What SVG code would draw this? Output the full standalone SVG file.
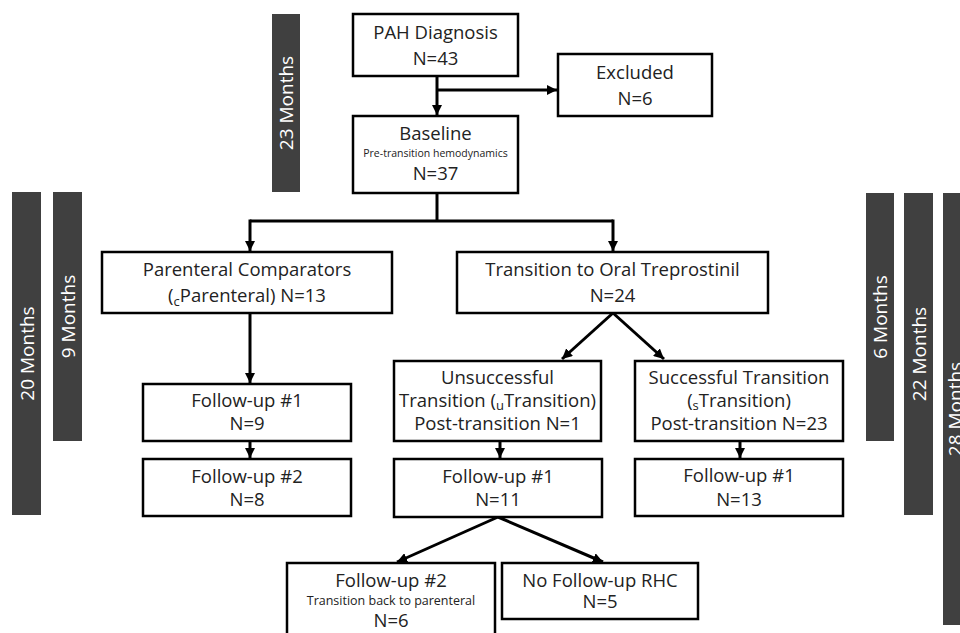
<svg xmlns="http://www.w3.org/2000/svg" width="960" height="633" viewBox="0 0 960 633">
<defs>
<marker id="ah" viewBox="0 0 10 10" refX="10" refY="5" markerWidth="3.4" markerHeight="3.4" orient="auto" markerUnits="strokeWidth">
<path d="M0,0 L10,5 L0,10 z" fill="#000"/>
</marker>
<style>
.box{fill:#fff;stroke:#000;stroke-width:2.5}
.bar{fill:#404040}
.t{font-family:"Open Sans","Liberation Sans",sans-serif;font-size:18.5px;fill:#222;text-anchor:middle}
.s{font-size:10.5px}
.s2{font-size:12.5px}
.bt{font-family:"Open Sans","Liberation Sans",sans-serif;font-size:19px;fill:#fff;text-anchor:middle;dominant-baseline:central}
.c{fill:none;stroke:#000;stroke-width:3}
</style>
</defs>
<rect width="960" height="633" fill="#fff"/>

<g id="bars">
<g id="bar23"><rect class="bar" x="272" y="14" width="28" height="178"/><text class="bt" transform="translate(286,103) rotate(-90)">23 Months</text></g>
<g id="bar20"><rect class="bar" x="12" y="192" width="29" height="323"/><text class="bt" transform="translate(26.5,353.5) rotate(-90)">20 Months</text></g>
<g id="bar9"><rect class="bar" x="53" y="192" width="29" height="249"/><text class="bt" transform="translate(67.5,316.5) rotate(-90)">9 Months</text></g>
<g id="bar6"><rect class="bar" x="866" y="193" width="28" height="248"/><text class="bt" transform="translate(880,317) rotate(-90)">6 Months</text></g>
<g id="bar22"><rect class="bar" x="904" y="193" width="29" height="322"/><text class="bt" transform="translate(918.5,354) rotate(-90)">22 Months</text></g>
<g id="bar28"><rect class="bar" x="943" y="193" width="29" height="432"/><text class="bt" transform="translate(955,409) rotate(-90)">28 Months</text></g>
</g>

<g id="connectors">
<path class="c" d="M437,76 V115" marker-end="url(#ah)"/>
<path class="c" d="M437,90 H557" marker-end="url(#ah)"/>
<path class="c" d="M437,193 V221"/>
<path class="c" d="M250,221 H613"/>
<path class="c" d="M250,219.5 V251" marker-end="url(#ah)"/>
<path class="c" d="M613,219.5 V251" marker-end="url(#ah)"/>
<path class="c" d="M250,313 V383" marker-end="url(#ah)"/>
<path class="c" d="M613,313 L562,359" marker-end="url(#ah)"/>
<path class="c" d="M613,313 L664,359" marker-end="url(#ah)"/>
<path class="c" d="M250,441 V458" marker-end="url(#ah)"/>
<path class="c" d="M500,441 V458" marker-end="url(#ah)"/>
<path class="c" d="M740,441 V458" marker-end="url(#ah)"/>
<path class="c" d="M498,517 L397,562" marker-end="url(#ah)"/>
<path class="c" d="M498,517 L603,562" marker-end="url(#ah)"/>
</g>

<g id="pah"><rect class="box" x="353" y="14" width="165" height="62"/>
<text class="t" x="435.5" y="39">PAH Diagnosis</text><text class="t" x="435.5" y="65">N=43</text></g>

<g id="excluded"><rect class="box" x="558" y="54" width="154" height="62"/>
<text class="t" x="635" y="79">Excluded</text><text class="t" x="635" y="105">N=6</text></g>

<g id="baseline"><rect class="box" x="353" y="116" width="165" height="77"/>
<text class="t" x="435.5" y="140">Baseline</text><text class="t s" x="435.5" y="157">Pre-transition hemodynamics</text><text class="t" x="435.5" y="180">N=37</text></g>

<g id="parenteral"><rect class="box" x="102" y="252" width="290" height="61"/>
<text class="t" x="247" y="276">Parenteral Comparators</text>
<text class="t" x="247" y="302">(<tspan font-size="13" dy="4">c</tspan><tspan dy="-4">Parenteral) N=13</tspan></text></g>

<g id="transition"><rect class="box" x="457" y="252" width="311" height="61"/>
<text class="t" x="612.5" y="276">Transition to Oral Treprostinil</text><text class="t" x="612.5" y="302">N=24</text></g>

<g id="pfu1"><rect class="box" x="143" y="384" width="208" height="57"/>
<text class="t" x="247" y="407">Follow-up #1</text><text class="t" x="247" y="430">N=9</text></g>

<g id="pfu2"><rect class="box" x="143" y="459" width="208" height="57"/>
<text class="t" x="247" y="483">Follow-up #2</text><text class="t" x="247" y="506">N=8</text></g>

<g id="unsuccessful"><rect class="box" x="394" y="361" width="207" height="80"/>
<text class="t" x="497.5" y="384">Unsuccessful</text>
<text class="t" x="497.5" y="407">Transition (<tspan font-size="13" dy="3">u</tspan><tspan dy="-3">Transition)</tspan></text>
<text class="t" x="497.5" y="430">Post-transition N=1</text></g>

<g id="successful"><rect class="box" x="635" y="361" width="208" height="80"/>
<text class="t" x="739" y="384">Successful Transition</text>
<text class="t" x="739" y="407">(<tspan font-size="13" dy="3">s</tspan><tspan dy="-3">Transition)</tspan></text>
<text class="t" x="739" y="430">Post-transition N=23</text></g>

<g id="ufu1"><rect class="box" x="394" y="459" width="208" height="58"/>
<text class="t" x="498" y="483">Follow-up #1</text><text class="t" x="498" y="506">N=11</text></g>

<g id="sfu1"><rect class="box" x="635" y="459" width="208" height="57"/>
<text class="t" x="739" y="482">Follow-up #1</text><text class="t" x="739" y="506">N=13</text></g>

<g id="ufu2"><rect class="box" x="287" y="563" width="208" height="80"/>
<text class="t" x="391" y="587">Follow-up #2</text><text class="t s2" x="391" y="605">Transition back to parenteral</text><text class="t" x="391" y="627">N=6</text></g>

<g id="nofu"><rect class="box" x="502" y="563" width="196" height="56"/>
<text class="t" x="600" y="587">No Follow-up RHC</text><text class="t" x="600" y="608">N=5</text></g>
</svg>
